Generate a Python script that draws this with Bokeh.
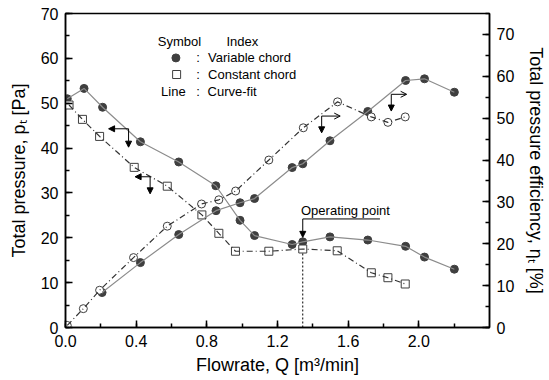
from bokeh.plotting import figure
from bokeh.models import (Range1d, LinearAxis, SingleIntervalTicker, PrintfTickFormatter,
                          Label, Arrow, NormalHead, OpenHead)
from bokeh.embed import file_html
from bokeh.resources import INLINE

# ---------------- data ----------------
# Variable chord: total pressure [Pa] (left axis)
flow_var_p = [0.01, 0.105, 0.21, 0.424, 0.641, 0.851, 0.988, 1.070, 1.283, 1.343, 1.497, 1.711, 1.925, 2.032, 2.201]
pres_var = [51.0, 53.3, 49.1, 41.4, 36.9, 31.6, 23.9, 20.5, 18.5, 19.1, 20.2, 19.5, 18.1, 15.7, 13.0]
# Variable chord: total pressure efficiency [%] (right axis)
flow_var_e = [0.207, 0.424, 0.641, 0.852, 0.988, 1.070, 1.283, 1.343, 1.497, 1.711, 1.925, 2.032, 2.201]
eff_var = [8.35, 15.5, 22.2, 27.9, 29.8, 30.8, 38.2, 39.1, 44.6, 51.6, 59.0, 59.4, 56.2]
# Constant chord: total pressure [Pa] (left axis)
flow_con_p = [0.02, 0.096, 0.193, 0.389, 0.576, 0.772, 0.868, 0.962, 1.151, 1.343, 1.538, 1.731, 1.825, 1.923]
pres_con = [49.6, 46.4, 42.6, 35.7, 31.5, 25.1, 21.0, 17.0, 17.0, 17.5, 17.1, 12.2, 11.1, 9.7]
# Constant chord: total pressure efficiency [%] (right axis)
flow_con_e = [0.01, 0.101, 0.193, 0.385, 0.576, 0.770, 0.868, 0.963, 1.151, 1.346, 1.540, 1.731, 1.825, 1.923]
eff_con = [0.5, 4.5, 8.9, 16.7, 24.2, 29.5, 30.5, 32.6, 40.0, 47.7, 53.9, 50.3, 49.0, 50.3]

OP_INDEX = 9  # operating point on the variable-chord pressure curve

FONT = "Liberation Sans"
DARK = "#3f3f3f"

p = figure(width=549, height=380, x_range=Range1d(0, 2.4), y_range=Range1d(0, 70),
           output_backend="svg", toolbar_location=None,
           min_border_left=65, min_border_right=58, min_border_top=13, min_border_bottom=53)
p.extra_y_ranges = {"eff": Range1d(0, 75)}
p.grid.visible = False
p.outline_line_color = "black"
p.outline_line_width = 1.5
p.background_fill_color = "white"
p.border_fill_color = "white"

right = LinearAxis(y_range_name="eff")
p.add_layout(right, "right")

p.xaxis[0].ticker = SingleIntervalTicker(interval=0.4, num_minor_ticks=2)
p.xaxis[0].formatter = PrintfTickFormatter(format="%.1f")
p.yaxis[0].ticker = SingleIntervalTicker(interval=10, num_minor_ticks=2)
right.ticker = SingleIntervalTicker(interval=10, num_minor_ticks=2)

p.xaxis[0].axis_label = "Flowrate, Q [m³/min]"
p.yaxis[0].axis_label = "Total pressure, pₜ [Pa]"
right.axis_label = "Total pressure efficiency, ηₜ [%]"

for ax in [p.xaxis[0], p.yaxis[0], right]:
    ax.axis_line_width = 1.5
    ax.axis_line_color = "black"
    ax.major_tick_in = 7
    ax.major_tick_out = 0
    ax.minor_tick_in = 4
    ax.minor_tick_out = 0
    ax.major_tick_line_width = 1.5
    ax.minor_tick_line_width = 1.5
    ax.major_label_text_font = FONT
    ax.major_label_text_font_size = "16px"
    ax.major_label_text_color = "black"
    ax.major_label_standoff = 7
    ax.axis_label_text_font = FONT
    ax.axis_label_text_font_size = "18px"
    ax.axis_label_text_font_style = "normal"
    ax.axis_label_text_color = "black"
    ax.axis_label_standoff = 9
p.xaxis[0].axis_label_standoff = 5

# ---------------- markers ----------------
p.scatter(flow_var_p, pres_var, marker="circle", size=8, fill_color=DARK, line_color=DARK)
p.scatter(flow_var_e, eff_var, marker="circle", size=8, fill_color=DARK, line_color=DARK,
          y_range_name="eff")
p.scatter(flow_con_p, pres_con, marker="square", size=8, fill_color="white", line_color=DARK,
          line_width=1)
p.scatter(flow_con_e, eff_con, marker="circle", size=8, fill_color="white", line_color=DARK,
          line_width=1, y_range_name="eff")

# ---------------- curve-fit lines ----------------
p.line(flow_var_p, pres_var, line_color="#8c8c8c", line_width=1.2)
p.line(flow_var_e, eff_var, line_color="#8c8c8c", line_width=1.2, y_range_name="eff")
p.line(flow_con_p, pres_con, line_color="#333333", line_width=1.2, line_dash="6 3 1 3")
p.line(flow_con_e, eff_con, line_color="#333333", line_width=1.2, line_dash="6 3 1 3",
       y_range_name="eff")

# ---------------- axis-pointer arrows ----------------
def make_head(kind):
    if kind == "open":
        return OpenHead(size=6, line_color="black", line_width=1)
    return NormalHead(size=6, line_color="black", fill_color="black", line_width=1)

def corner_arrow(x0, y0, x1, y1_down, kind, rng="default"):
    p.add_layout(Arrow(end=make_head(kind),
                       x_start=x0, y_start=y0, x_end=x1, y_end=y0,
                       line_width=1, line_color="black", y_range_name=rng))
    p.add_layout(Arrow(end=make_head("filled"),
                       x_start=x0, y_start=y0, x_end=x0, y_end=y1_down,
                       line_width=1, line_color="black", y_range_name=rng))

corner_arrow(0.357, 44.3, 0.244, 40.2, "filled")
corner_arrow(0.479, 33.6, 0.394, 29.8, "filled")
corner_arrow(1.450, 50.5, 1.555, 46.5, "open", "eff")
corner_arrow(1.844, 55.7, 1.931, 51.7, "open", "eff")

# ---------------- operating point ----------------
op_x = flow_var_p[OP_INDEX]
op_y = pres_var[OP_INDEX]
p.add_layout(Arrow(end=None, x_start=op_x, y_start=op_y + 5.1, x_end=1.78, y_end=op_y + 5.1,
                   line_width=1, line_color="black"))
p.add_layout(Arrow(end=NormalHead(size=6, fill_color="black", line_color="black"),
                   x_start=op_x, y_start=op_y + 5.1, x_end=op_x, y_end=op_y + 1.0,
                   line_width=1, line_color="black"))
p.add_layout(Arrow(end=None, x_start=op_x, y_start=op_y - 2.6, x_end=op_x, y_end=0,
                   line_width=1, line_color="black", line_dash="2 2"))
p.add_layout(Label(x=op_x - 0.01, y=op_y + 6.9, text="Operating point", text_font=FONT,
                   text_font_size="13px", text_baseline="middle", text_align="left",
                   text_color="black"))

# ---------------- legend block ----------------
def lab(x, y, t, align="left"):
    p.add_layout(Label(x=x, y=y, text=t, text_font=FONT, text_font_size="13px",
                       text_baseline="middle", text_align=align, text_color="black"))

lab(0.522, 63.8, "Symbol")
lab(0.911, 63.8, "Index")
lab(0.751, 60.1, ":", "center")
lab(0.807, 60.1, "Variable chord")
lab(0.751, 56.4, ":", "center")
lab(0.807, 56.4, "Constant chord")
lab(0.541, 52.7, "Line")
lab(0.751, 52.7, ":", "center")
lab(0.804, 52.7, "Curve-fit")
p.scatter([0.625], [60.1], marker="circle", size=8, fill_color=DARK, line_color=DARK)
p.scatter([0.629], [56.4], marker="square", size=8, fill_color="white", line_color=DARK)

open("out.html", "w").write(file_html(p, INLINE))
